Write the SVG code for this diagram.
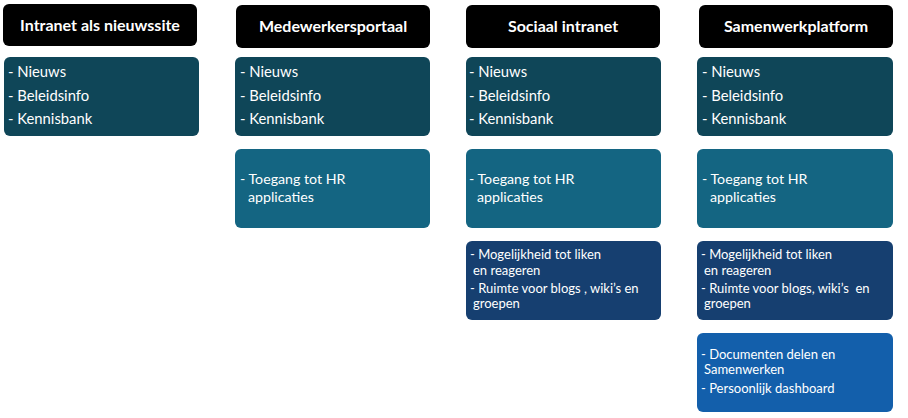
<svg xmlns="http://www.w3.org/2000/svg" width="908" height="418" viewBox="0 0 908 418">
<style>
text{font-family:Lato,"Liberation Sans",sans-serif;fill:#ffffff;white-space:pre}
.hdr{fill:#000000}
.h{font-weight:bold;font-size:16px;text-anchor:middle}
.b{font-size:14.8px}
.t{font-size:14.2px}
.s{font-size:13px}
.c1{fill:#0f4658}
.c2{fill:#146582}
.c3{fill:#163f70}
.c4{fill:#135fab}
</style>
<rect width="908" height="418" fill="#ffffff"/>
<g id="col1">
<g id="h1"><rect class="hdr" x="3" y="4" width="194" height="42" rx="6"/><text class="h" x="100" y="31">Intranet als nieuwssite</text></g>
<g id="b1"><rect class="c1" x="4" y="57" width="195" height="79" rx="6"/>
<text class="b" x="8" y="77">- Nieuws</text><text class="b" x="8" y="101">- Beleidsinfo</text><text class="b" x="8" y="124">- Kennisbank</text></g>
</g>
<g id="col2">
<g id="h2"><rect class="hdr" x="236" y="5" width="194" height="43" rx="6"/><text class="h" x="333" y="32">Medewerkersportaal</text></g>
<g id="b2"><rect class="c1" x="235" y="57" width="195" height="79" rx="6"/>
<text class="b" x="240" y="77">- Nieuws</text><text class="b" x="240" y="101">- Beleidsinfo</text><text class="b" x="240" y="124">- Kennisbank</text></g>
<g id="hr2"><rect class="c2" x="235" y="149" width="195" height="79" rx="6"/>
<text class="t" x="240" y="184">- Toegang tot HR</text><text class="t" x="248" y="201.5">applicaties</text></g>
</g>
<g id="col3">
<g id="h3"><rect class="hdr" x="466" y="5" width="194" height="43" rx="6"/><text class="h" x="563" y="32">Sociaal intranet</text></g>
<g id="b3"><rect class="c1" x="466" y="57" width="195" height="79" rx="6"/>
<text class="b" x="469" y="77">- Nieuws</text><text class="b" x="469" y="101">- Beleidsinfo</text><text class="b" x="469" y="124">- Kennisbank</text></g>
<g id="hr3"><rect class="c2" x="466" y="149" width="195" height="79" rx="6"/>
<text class="t" x="469" y="184">- Toegang tot HR</text><text class="t" x="477" y="201.5">applicaties</text></g>
<g id="so3"><rect class="c3" x="466" y="241" width="195" height="79" rx="6"/>
<text class="s" x="470" y="259">- Mogelijkheid tot liken</text><text class="s" x="473" y="275">en reageren</text>
<text class="s" x="470" y="293">- Ruimte voor blogs , wiki’s en</text><text class="s" x="473" y="308">groepen</text></g>
</g>
<g id="col4">
<g id="h4"><rect class="hdr" x="699" y="5" width="194" height="43" rx="6"/><text class="h" x="796" y="32">Samenwerkplatform</text></g>
<g id="b4"><rect class="c1" x="697" y="57" width="196" height="79" rx="6"/>
<text class="b" x="702" y="77">- Nieuws</text><text class="b" x="702" y="101">- Beleidsinfo</text><text class="b" x="702" y="124">- Kennisbank</text></g>
<g id="hr4"><rect class="c2" x="697" y="149" width="196" height="79" rx="6"/>
<text class="t" x="702" y="184">- Toegang tot HR</text><text class="t" x="710" y="201.5">applicaties</text></g>
<g id="so4"><rect class="c3" x="697" y="241" width="196" height="79" rx="6"/>
<text class="s" x="701" y="259">- Mogelijkheid tot liken</text><text class="s" x="704" y="275">en reageren</text>
<text class="s" x="701" y="293">- Ruimte voor blogs, wiki’s  en</text><text class="s" x="704" y="308">groepen</text></g>
<g id="do4"><rect class="c4" x="697" y="333" width="196" height="79" rx="6"/>
<text class="s" x="701" y="359">- Documenten delen en</text><text class="s" x="704" y="374">Samenwerken</text>
<text class="s" x="701" y="393">- Persoonlijk dashboard</text></g>
</g>
<g id="connectors"/>
</svg>
